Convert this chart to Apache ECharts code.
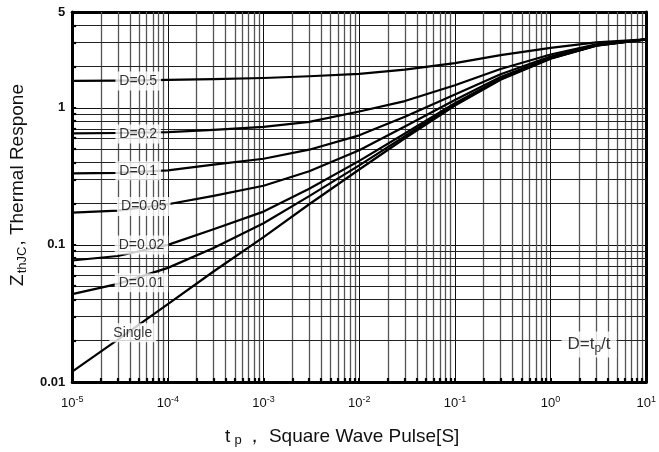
<!DOCTYPE html>
<html><head><meta charset="utf-8">
<script src="https://cdn.jsdelivr.net/npm/echarts@6/dist/echarts.min.js"></script>
<style>html,body{margin:0;padding:0;background:#fff}#c{width:659px;height:452px}</style>
</head><body><div id="c"></div>
<script>
// Pulse width tp [s] (shared sample points) and Z_thJC read per curve
const tp     = [1e-5, 3e-5, 1e-4, 3e-4, 1e-3, 3e-3, 1e-2, 3e-2, 0.1, 0.3, 1, 3, 10];
const d05    = [1.57, 1.58, 1.60, 1.62, 1.65, 1.70, 1.77, 1.90, 2.12, 2.42, 2.74, 3.00, 3.16];
const d02    = [0.65, 0.655, 0.665, 0.69, 0.725, 0.79, 0.94, 1.12, 1.46, 1.92, 2.45, 2.90, 3.16];
const d01    = [0.332, 0.335, 0.35, 0.385, 0.425, 0.495, 0.63, 0.86, 1.25, 1.76, 2.37, 2.88, 3.16];
const d005   = [0.172, 0.178, 0.198, 0.228, 0.27, 0.345, 0.49, 0.73, 1.14, 1.68, 2.32, 2.86, 3.16];
const d002   = [0.077, 0.083, 0.10, 0.13, 0.175, 0.257, 0.41, 0.65, 1.08, 1.63, 2.30, 2.85, 3.16];
const d001   = [0.0437, 0.052, 0.068, 0.095, 0.144, 0.227, 0.38, 0.62, 1.06, 1.62, 2.29, 2.84, 3.16];
const single = [0.0119, 0.0204, 0.037, 0.064, 0.114, 0.198, 0.355, 0.60, 1.04, 1.60, 2.28, 2.84, 3.16];

// Curve labels: [tp, Z, text]
const curveLabels = [
  [4.9e-5,1.57,'D=0.5'],[4.9e-5,0.645,'D=0.2'],[4.9e-5,0.348,'D=0.1'],
  [5.6e-5,0.191,'D=0.05'],[5.3e-5,0.1,'D=0.02'],[5.3e-5,0.053,'D=0.01'],
  [4.3e-5,0.0229,'Single']
];
const dutyNote = [2.52,0.0188];

const xMin = 1e-5, xMax = 10, yMin = 0.01, yMax = 5;
const xDecades = [-5,-4,-3,-2,-1,0];
const yDecades = [-2,-1,0];

const FONT = '"Liberation Sans", Arial, sans-serif';

// minor grid values (2..9 x each decade)
const xMinor = [], yMinor = [];
xDecades.forEach(e => { for (let m = 2; m <= 9; m++) xMinor.push(m * Math.pow(10, e)); });
yDecades.forEach(e => { for (let m = 2; m <= 9; m++) { const v = m * Math.pow(10, e); if (v < yMax) yMinor.push(v); } });
// short inside tick length, as a factor along each log axis
const xTickF = 1.1, yTickF = 1.07;

const chart = echarts.init(document.getElementById('c'), null, {renderer: 'canvas'});

const curve = (name, vals) => ({
  type: 'line', name, data: tp.map((t, i) => [t, vals[i]]), showSymbol: false,
  smooth: false,
  lineStyle: {color: '#000', width: 2.2, join: 'round'}, z: 5, silent: true
});

const option = {
  animation: false,
  backgroundColor: '#fff',
  grid: {left: 68, right: 9, top: 12, bottom: 59, show: false},
  xAxis: [{
    type: 'log', logBase: 10, min: xMin, max: xMax,
    axisLine: {show: true, onZero: false, lineStyle: {color: '#000', width: 3}},
    axisTick: {show: true, inside: true, length: 4, lineStyle: {color: '#000', width: 2}},
    splitLine: {show: true, lineStyle: {color: '#111', width: 1}},
    axisLabel: {
      margin: 13, color: '#111', fontFamily: FONT, fontSize: 13,
      formatter: v => '10{sup|' + Math.round(Math.log10(v)) + '}',
      rich: {sup: {fontSize: 9, fontFamily: FONT, color: '#111', padding: [0, 0, 8, 0]}}
    },
    name: 't{sub|p}， Square Wave Pulse[S]',
    nameLocation: 'middle', nameGap: 44,
    nameTextStyle: {fontSize: 19, fontFamily: FONT, color: '#111', padding: [0, 34, 0, 0],
      rich: {sub: {fontSize: 13, fontFamily: FONT, color: '#111', padding: [8, 3, 0, 4]}}}
  }, {
    type: 'log', logBase: 10, min: xMin, max: xMax, position: 'top',
    axisLine: {show: true, onZero: false, lineStyle: {color: '#000', width: 3}},
    axisTick: {show: false}, axisLabel: {show: false}, splitLine: {show: false}
  }],
  yAxis: [{
    type: 'log', logBase: 10, min: yMin, max: yMax,
    axisLine: {show: true, onZero: false, lineStyle: {color: '#000', width: 3}},
    axisTick: {show: true, inside: true, length: 4, lineStyle: {color: '#000', width: 2}},
    splitLine: {show: true, lineStyle: {color: '#111', width: 1}},
    axisLabel: {
      margin: 7, color: '#111', fontFamily: FONT, fontSize: 13, fontWeight: 'bold',
      showMaxLabel: true,
      formatter: v => v >= 1 ? String(Math.round(v)) : String(parseFloat(v.toPrecision(2)))
    },
    name: 'Z{sub|thJC}, Thermal Respone',
    nameLocation: 'middle', nameGap: 31, nameRotate: 90,
    nameTextStyle: {fontSize: 19, fontFamily: FONT, color: '#111', padding: [0, 0, 0, 24],
      rich: {sub: {fontSize: 13, fontFamily: FONT, color: '#111', padding: [10, 1, 0, 1]}}}
  }, {
    type: 'log', logBase: 10, min: yMin, max: yMax, position: 'right',
    axisLine: {show: true, onZero: false, lineStyle: {color: '#000', width: 3}},
    axisTick: {show: false}, axisLabel: {show: false}, splitLine: {show: false}
  }],
  series: [
    {
      type: 'lines', coordinateSystem: 'cartesian2d', silent: true, z: 1,
      lineStyle: {color: '#555', width: 1.3, opacity: 1},
      data: xMinor.map(v => ({coords: [[v, yMin], [v, yMax]]}))
    },
    {
      type: 'lines', coordinateSystem: 'cartesian2d', silent: true, z: 1,
      lineStyle: {color: '#222', width: 1, opacity: 1},
      data: yMinor.map(v => ({coords: [[xMin, v], [xMax, v]]}))
    },
    {
      type: 'lines', coordinateSystem: 'cartesian2d', silent: true, z: 2,
      lineStyle: {color: '#000', width: 2.2, opacity: 1},
      data: xMinor.map(v => ({coords: [[v, yMin], [v, yMin * yTickF]]}))
        .concat(yMinor.map(v => ({coords: [[xMin, v], [xMin * xTickF, v]]})))
    },
    curve('D=0.5', d05), curve('D=0.2', d02), curve('D=0.1', d01), curve('D=0.05', d005),
    curve('D=0.02', d002), curve('D=0.01', d001), curve('Single', single),
    {
      type: 'scatter', symbolSize: 0, z: 10, silent: true,
      data: curveLabels.map(d => ({value: [d[0], d[1]], name: d[2]})),
      label: {show: true, position: 'inside', formatter: p => p.name, fontFamily: FONT, fontSize: 14,
        color: '#000', backgroundColor: '#fff', padding: [3, 4, 2, 4]}
    },
    {
      type: 'scatter', symbolSize: 0, z: 10, silent: true,
      data: [{value: dutyNote, name: 'note'}],
      label: {show: true, position: 'inside', formatter: 'D=t{sub|p}/t', fontFamily: FONT, fontSize: 17,
        color: '#000', backgroundColor: '#fff', padding: [3, 6, 3, 6],
        rich: {sub: {fontSize: 12, fontFamily: FONT, color: '#000', padding: [8, 0, 0, 0]}}}
    }
  ]
};
chart.setOption(option);
</script></body></html>
